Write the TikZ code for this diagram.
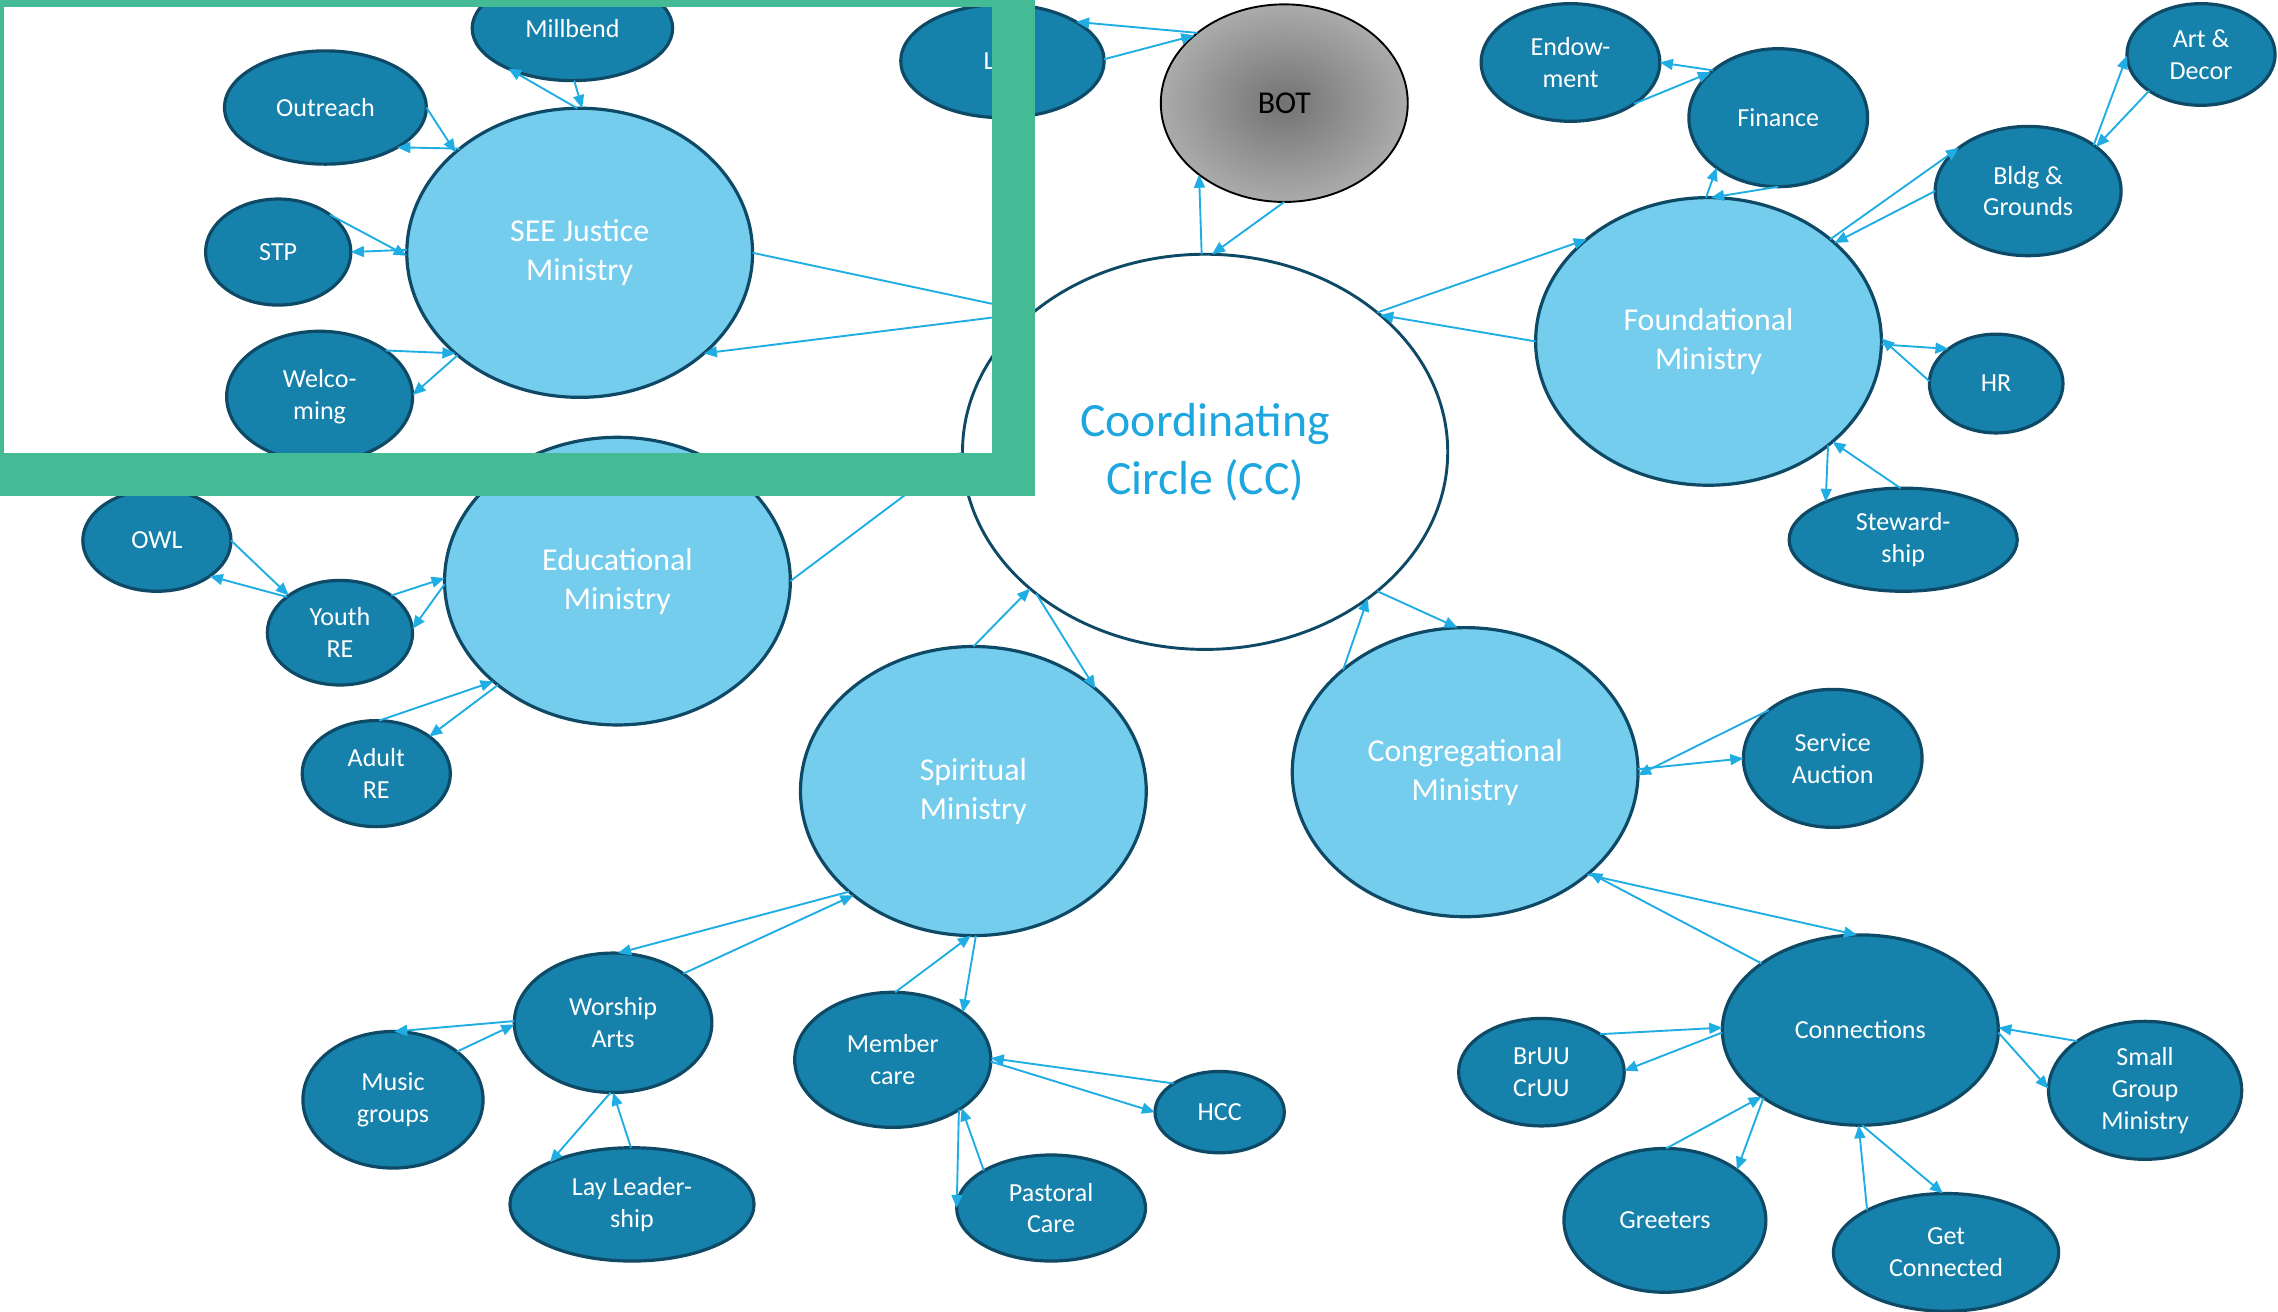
\documentclass[tikz,border=0pt]{standalone}
\usepackage{fontspec}
\setmainfont{Carlito}
\usetikzlibrary{shapes,arrows.meta}
\definecolor{darkfill}{RGB}{22,129,171}
\definecolor{lightfill}{RGB}{117,205,238}
\definecolor{rimblue}{RGB}{14,74,102}
\definecolor{linkblue}{RGB}{31,173,228}
\definecolor{cctext}{RGB}{30,166,222}
\definecolor{framegreen}{RGB}{68,186,149}

\begin{document}
\begin{tikzpicture}[x=1bp,y=-1bp]

\tikzstyle{dark-b} = [ellipse, draw=rimblue, line width=2.2bp, fill=darkfill, text=white,
inner sep=0, outer sep=0, align=center, font=\fontsize{18}{22}\selectfont]
\tikzstyle{light-b} = [ellipse, draw=rimblue, line width=2.2bp, fill=lightfill, text=white,
inner sep=0, outer sep=0, align=center, font=\fontsize{22}{27}\selectfont]
\tikzstyle{cc-b} = [ellipse, draw=rimblue, line width=2bp, fill=white, text=cctext,
inner sep=0, outer sep=0, align=center, font=\fontsize{33}{40}\selectfont]
\tikzstyle{bot-b} = [ellipse, draw=black, line width=1.3bp, inner color=black!55, outer color=black!33,
text=black, inner sep=0, outer sep=0, font=\fontsize{22}{27}\selectfont]
\tikzstyle{link_line} = [draw=linkblue, line width=1.3bp, -{Triangle[length=9bp,width=7.5bp]}]

\useasboundingbox (0,0) rectangle (1568,903);
\clip (0,0) rectangle (1568,903);

% SEE Justice
\node [light-b, minimum width=238bp, minimum height=199bp] (see) at (399,174) {SEE Justice\\Ministry};
\node [dark-b, minimum width=138bp, minimum height=72bp] (millbend) at (394,19.5) {Millbend};
\node [dark-b, minimum width=139bp, minimum height=78bp] (outreach) at (224,74) {Outreach};
\node [dark-b, minimum width=100bp, minimum height=73bp] (stp) at (191.5,173.5) {STP};
\node [dark-b, minimum width=128bp, minimum height=90bp] (welcoming) at (220,273) {Welco-\\ming};

% centre
\node [cc-b, minimum width=334bp, minimum height=272bp] (cc) at (829.5,311) {Coordinating\\Circle (CC)};
\node [bot-b, minimum width=170bp, minimum height=136bp] (bot) at (884,71) {BOT};
\node [dark-b, minimum width=140bp, minimum height=78bp] (lnode) at (690,42) {\makebox[26bp][l]{L}};

% Foundational
\node [light-b, minimum width=238bp, minimum height=198bp] (found) at (1176,235) {Foundational\\Ministry};
\node [dark-b, minimum width=123bp, minimum height=81bp] (endow) at (1081,43) {Endow-\\ment};
\node [dark-b, minimum width=123bp, minimum height=95bp] (finance) at (1224,81) {Finance};
\node [dark-b, minimum width=102bp, minimum height=70bp] (art) at (1515,37.5) {Art \&\\Decor};
\node [dark-b, minimum width=128bp, minimum height=89bp] (bldg) at (1396,131.5) {Bldg \&\\Grounds};
\node [dark-b, minimum width=92bp, minimum height=68bp] (hr) at (1374,264) {HR};
\node [dark-b, minimum width=157bp, minimum height=71bp] (stew) at (1310,371.5) {Steward-\\ship};

% Educational
\node [light-b, minimum width=238bp, minimum height=198bp] (edu) at (425,400) {Educational\\Ministry};
\node [dark-b, minimum width=102bp, minimum height=70bp] (owl) at (108,372) {OWL};
\node [dark-b, minimum width=100bp, minimum height=72bp] (youth) at (234,435.5) {Youth\\RE};
\node [dark-b, minimum width=102bp, minimum height=73bp] (adult) at (259,532.5) {Adult\\RE};

% Spiritual
\node [light-b, minimum width=238bp, minimum height=199bp] (spirit) at (670,544.5) {Spiritual\\Ministry};
\node [dark-b, minimum width=136bp, minimum height=96bp] (worship) at (422,704) {Worship\\Arts};
\node [dark-b, minimum width=124bp, minimum height=94bp] (music) at (270.5,757) {Music\\groups};
\node [dark-b, minimum width=168bp, minimum height=78bp] (lay) at (435,829) {Lay Leader-\\ship};
\node [dark-b, minimum width=135bp, minimum height=93bp] (member) at (614.5,729.5) {Member\\care};
\node [dark-b, minimum width=130bp, minimum height=73bp] (pastoral) at (723.5,831.5) {Pastoral\\Care};
\node [dark-b, minimum width=89bp, minimum height=56bp] (hcc) at (839.5,765.5) {HCC};

% Congregational
\node [light-b, minimum width=238bp, minimum height=199bp] (cong) at (1008.5,531.5) {Congregational\\Ministry};
\node [dark-b, minimum width=123bp, minimum height=95bp] (service) at (1261.5,522) {Service\\Auction};
\node [dark-b, minimum width=190bp, minimum height=131bp] (conn) at (1280.5,709) {Connections};
\node [dark-b, minimum width=114bp, minimum height=74bp] (bruu) at (1061,738) {BrUU\\CrUU};
\node [dark-b, minimum width=133bp, minimum height=95bp] (sgm) at (1476.5,750.5) {Small\\Group\\Ministry};
\node [dark-b, minimum width=139bp, minimum height=99bp] (greet) at (1146,840) {Greeters};
\node [dark-b, minimum width=155bp, minimum height=81bp] (getc) at (1339.5,862) {Get\\Connected};

% links, two per pair
\draw[link_line] (see.91) -- (millbend.212);
\draw[link_line] (millbend.272) -- (see.89);
\draw[link_line] (outreach.0) -- (see.141);
\draw[link_line] (see.139) -- (outreach.331);
\draw[link_line] (stp.36) -- (see.181);
\draw[link_line] (see.179) -- (stp.0);
\draw[link_line] (welcoming.35) -- (see.219);
\draw[link_line] (see.220) -- (welcoming.1);
\draw[link_line] (see.0) -- (cc.141);
\draw[link_line] (cc.141.5) -- (see.321);

\draw[link_line] (bot.141) -- (lnode.28);
\draw[link_line] (lnode.1) -- (bot.143);
\draw[link_line] (cc.91) -- (bot.220);
\draw[link_line] (bot.270) -- (cc.88);

\draw[link_line] (finance.144) -- (endow.0);
\draw[link_line] (endow.327) -- (finance.146);
\draw[link_line] (found.91) -- (finance.219);
\draw[link_line] (finance.270) -- (found.89);
\draw[link_line] (bldg.35) -- (art.181);
\draw[link_line] (art.215) -- (bldg.33);
\draw[link_line] (found.40) -- (bldg.148);
\draw[link_line] (bldg.180) -- (found.38);
\draw[link_line] (cc.39.5) -- (found.140);
\draw[link_line] (found.180) -- (cc.38);
\draw[link_line] (found.359) -- (hr.144.5);
\draw[link_line] (hr.178) -- (found.1);
\draw[link_line] (found.319.5) -- (stew.154.5);
\draw[link_line] (stew.93) -- (found.321);

\draw[link_line] (cc.321) -- (cong.93);
\draw[link_line] (cong.140) -- (cc.318);
\draw[link_line] (service.143.5) -- (cong.359);
\draw[link_line] (cong.1) -- (service.180);
\draw[link_line] (conn.146) -- (cong.321);
\draw[link_line] (cong.320) -- (conn.92);
\draw[link_line] (bruu.33) -- (conn.179);
\draw[link_line] (conn.181) -- (bruu.1);
\draw[link_line] (sgm.144.5) -- (conn.1);
\draw[link_line] (conn.359) -- (sgm.179);
\draw[link_line] (greet.89) -- (conn.214);
\draw[link_line] (conn.215.5) -- (greet.35.5);
\draw[link_line] (getc.152.5) -- (conn.269);
\draw[link_line] (conn.271) -- (getc.93);

\draw[link_line] (owl.0) -- (youth.144);
\draw[link_line] (youth.146) -- (owl.326);
\draw[link_line] (youth.36.5) -- (edu.179);
\draw[link_line] (edu.181) -- (youth.3);
\draw[link_line] (adult.87.5) -- (edu.219);
\draw[link_line] (edu.221) -- (adult.35.5);
\draw[link_line] (edu.0) -- (cc.180);

\draw[link_line] (spirit.90) -- (cc.218.5);
\draw[link_line] (cc.220) -- (spirit.40.5);
\draw[link_line] (spirit.219) -- (worship.86);
\draw[link_line] (worship.35.5) -- (spirit.221);
\draw[link_line] (worship.179) -- (music.89);
\draw[link_line] (music.37.5) -- (worship.181);
\draw[link_line] (worship.268) -- (lay.153.5);
\draw[link_line] (lay.91) -- (worship.270);
\draw[link_line] (member.88.5) -- (spirit.269);
\draw[link_line] (spirit.271) -- (member.34.5);
\draw[link_line] (hcc.148) -- (member.1);
\draw[link_line] (member.359) -- (hcc.180);
\draw[link_line] (pastoral.151) -- (member.325.5);
\draw[link_line] (member.323) -- (pastoral.180);

% green frame on top
\draw[framegreen, line width=29.5bp] (-11.75,-10.2) rectangle (697.5,326.5);

\end{tikzpicture}
\end{document}
